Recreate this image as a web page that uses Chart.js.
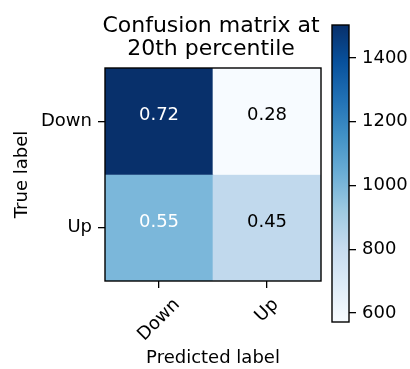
<!DOCTYPE html>
<html>
<head>
<meta charset="utf-8">
<script src="https://cdn.jsdelivr.net/npm/chart.js@4/dist/chart.umd.min.js"></script>
<style>
  html, body { margin: 0; padding: 0; background: #fff; }
  #wrap { position: relative; width: 410px; height: 369px; overflow: hidden; }
  #main { position: absolute; left: 0; top: 0; }
  #cbar { position: absolute; left: 320px; top: 0; }
</style>
</head>
<body>
<div id="wrap">
  <canvas id="main" width="410" height="369"></canvas>
  <canvas id="cbar" width="90" height="369"></canvas>
</div>
<script>
// ---- data ----
const classes = ['Down', 'Up'];
const normalized = [[0.72, 0.28], [0.55, 0.45]];   // row = true label, col = predicted
const counts = [[1503, 572], [1000, 818]];          // colour values (colorbar scale)
const cbTicks = [600, 800, 1000, 1200, 1400];
const titleLines = ['Confusion matrix at', '20th percentile'];

// ---- colormap (matplotlib "Blues") ----
const blues = ['#f7fbff','#deebf7','#c6dbef','#9ecae1','#6baed6','#4292c6','#2171b5','#08519c','#08306b'];
const flat = counts.flat();
const cMin = Math.min(...flat), cMax = Math.max(...flat);
function hexToRgb(h){ return [1,3,5].map(i => parseInt(h.substr(i,2),16)); }
function cmap(t){
  t = Math.max(0, Math.min(1, t));
  const p = t * (blues.length - 1);
  const i = Math.min(Math.floor(p), blues.length - 2);
  const f = p - i;
  const a = hexToRgb(blues[i]), b = hexToRgb(blues[i+1]);
  const c = a.map((v,k) => Math.round(v + (b[k]-v)*f));
  return `rgb(${c[0]},${c[1]},${c[2]})`;
}
const norm = v => (v - cMin) / (cMax - cMin);

Chart.defaults.font.family = 'DejaVu Sans';
Chart.defaults.color = '#000';

const FONT = 18;

const mainPlugin = {
  id: 'mainDecor',
  afterDatasetsDraw(chart) {
    const {ctx, chartArea, scales: {x, y}} = chart;
    ctx.save();
    ctx.font = `${FONT}px "DejaVu Sans"`;
    ctx.textAlign = 'center';
    ctx.textBaseline = 'middle';
    for (let r = 0; r < classes.length; r++) {
      for (let j = 0; j < classes.length; j++) {
        const px = x.getPixelForValue(j);
        const py = y.getPixelForValue(r + 0.5) - 5.5;
        ctx.fillStyle = norm(counts[r][j]) > 0.4 ? '#ffffff' : '#000000';
        ctx.fillText(normalized[r][j].toFixed(2), px, py);
      }
    }
    ctx.restore();
  },
  afterDraw(chart) {
    const {ctx, chartArea, scales: {x}} = chart;
    ctx.save();
    // frame
    ctx.strokeStyle = '#000';
    ctx.lineWidth = 1.4;
    ctx.strokeRect(chartArea.left, chartArea.top, chartArea.right - chartArea.left, chartArea.bottom - chartArea.top);
    // rotated x tick labels (centered like matplotlib)
    ctx.font = `${FONT}px "DejaVu Sans"`;
    ctx.fillStyle = '#000';
    ctx.textAlign = 'center';
    ctx.textBaseline = 'middle';
    const lh = FONT * 1.164;
    x.ticks.forEach((t, i) => {
      const label = classes[i];
      const w = ctx.measureText(label).width;
      const d = (w + lh) * Math.SQRT1_2;
      const px = x.getPixelForTick(i);
      const cy = chartArea.bottom + 7 + 6.5 + d / 2;
      ctx.save();
      ctx.translate(px, cy);
      ctx.rotate(-Math.PI / 4);
      ctx.fillText(label, 0, 0);
      ctx.restore();
    });
    // title
    ctx.font = '22px "DejaVu Sans"';
    ctx.textBaseline = 'alphabetic';
    const cx = (chartArea.left + chartArea.right) / 2 - 2;
    ctx.fillText(titleLines[0], cx, 31.7);
    ctx.fillText(titleLines[1], cx, 55);
    ctx.restore();
  }
};

new Chart(document.getElementById('main'), {
  type: 'bar',
  data: {
    labels: classes,
    datasets: classes.map((c, r) => ({
      label: c,
      data: classes.map(() => [r, r + 1]),
      backgroundColor: counts[r].map(v => cmap(norm(v))),
      borderWidth: 0,
      barPercentage: 1,
      categoryPercentage: 1,
      grouped: false
    }))
  },
  options: {
    responsive: false,
    animation: false,
    devicePixelRatio: 1,
    layout: { padding: { left: 0, top: 68, right: 89, bottom: 0 } },
    plugins: { legend: { display: false }, tooltip: { enabled: false }, title: { display: false } },
    scales: {
      x: {
        type: 'category',
        grid: { drawOnChartArea: false, drawTicks: true, tickLength: 7, color: '#000', lineWidth: 1.3, offset: false },
        border: { display: false },
        ticks: { display: false },
        title: { display: true, text: 'Predicted label', font: { size: FONT }, color: '#000', padding: { top: 0, bottom: 0 } },
        afterFit(s) { s.height = 88; }
      },
      y: {
        type: 'linear',
        min: 0, max: 2, reverse: true,
        afterBuildTicks(s) { s.ticks = classes.map((c, i) => ({ value: i + 0.5 })); },
        ticks: { callback: (v, i) => classes[i], font: { size: FONT }, color: '#000', padding: 6 },
        grid: { drawOnChartArea: false, drawTicks: true, tickLength: 7, color: '#000', lineWidth: 1.3 },
        border: { display: false },
        title: { display: true, text: 'True label', font: { size: FONT }, color: '#000', padding: { top: 12, bottom: 0 } },
        afterFit(s) { s.width = 105; }
      }
    }
  },
  plugins: [mainPlugin]
});

// ---- colorbar ----
const cbPlugin = {
  id: 'cbFrame',
  afterDraw(chart) {
    const {ctx, chartArea} = chart;
    ctx.save();
    ctx.strokeStyle = '#000';
    ctx.lineWidth = 1.4;
    ctx.strokeRect(chartArea.left, chartArea.top, chartArea.right - chartArea.left, chartArea.bottom - chartArea.top);
    ctx.restore();
  }
};

new Chart(document.getElementById('cbar'), {
  type: 'bar',
  data: {
    labels: [''],
    datasets: [{
      data: [[cMin, cMax]],
      backgroundColor(c) {
        const chart = c.chart;
        if (!chart.chartArea) return blues[4];
        const y = chart.scales.y;
        const g = chart.ctx.createLinearGradient(0, y.getPixelForValue(cMin), 0, y.getPixelForValue(cMax));
        blues.forEach((col, i) => g.addColorStop(i / (blues.length - 1), col));
        return g;
      },
      borderWidth: 0,
      barPercentage: 1,
      categoryPercentage: 1
    }]
  },
  options: {
    responsive: false,
    animation: false,
    devicePixelRatio: 1,
    layout: { padding: { left: 12, top: 25, right: 0, bottom: 47 } },
    plugins: { legend: { display: false }, tooltip: { enabled: false } },
    scales: {
      x: { display: false },
      y: {
        type: 'linear',
        position: 'right',
        min: cMin, max: cMax,
        afterBuildTicks(s) { s.ticks = cbTicks.map(v => ({ value: v })); },
        ticks: { font: { size: FONT }, color: '#000', padding: 6, callback: v => String(v) },
        grid: { drawOnChartArea: false, drawTicks: true, tickLength: 7, color: '#000', lineWidth: 1.3 },
        border: { display: false },
        afterFit(s) { s.width = 61; }
      }
    }
  },
  plugins: [cbPlugin]
});
</script>
</body>
</html>
